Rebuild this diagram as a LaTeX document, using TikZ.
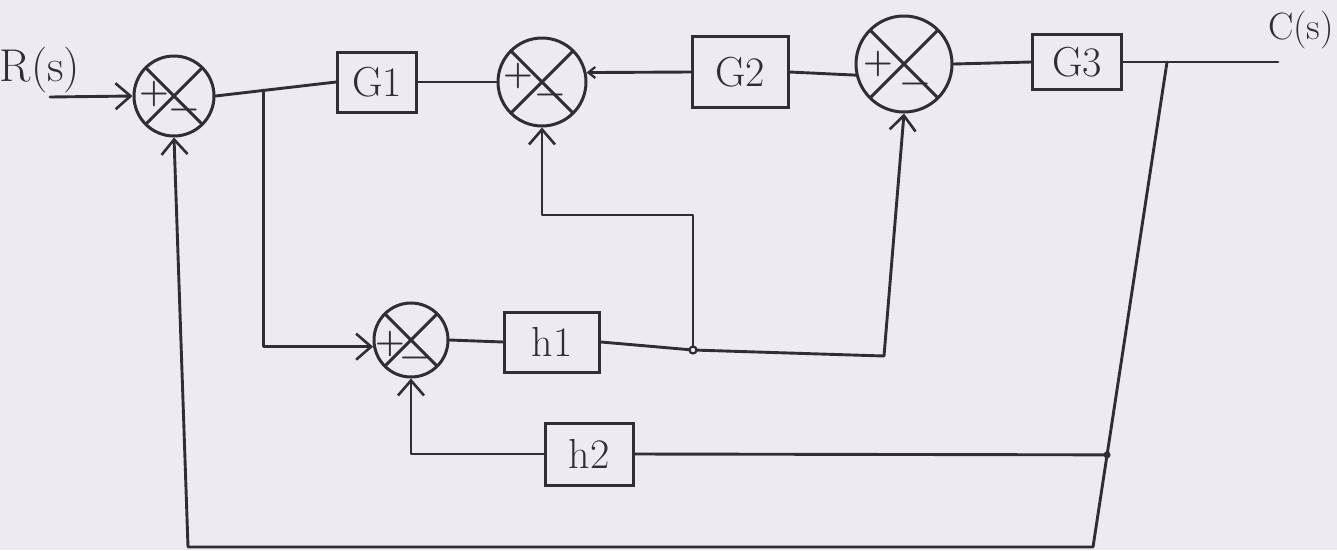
\documentclass[tikz,border=0pt]{standalone}
\usepackage{fontspec}
\usetikzlibrary{arrows.meta,calc}
\definecolor{ink}{RGB}{48,46,50}
\definecolor{paper}{RGB}{238,234,242}
\begin{document}
\begin{tikzpicture}[x=1pt,y=-1pt,
  inkline/.style={draw=ink, line width=2.9pt, line cap=round, line join=round},
  arr/.style={inkline, -{Straight Barb[length=15pt,width=26pt,line width=2.6pt]}},
  sarr/.style={inkline, -{Straight Barb[length=7pt,width=11pt,line width=2.2pt]}},
  summer/.style={circle, draw=ink, line width=3pt, minimum size=#1, inner sep=0pt,
    path picture={\draw[inkline] (path picture bounding box.north west) -- (path picture bounding box.south east)
      (path picture bounding box.north east) -- (path picture bounding box.south west);}},
  blk/.style={draw=ink, line width=3pt, inner sep=0pt, font=\fontsize{42}{42}\selectfont, text=ink},
  sgn/.style={inner sep=0pt, text height=0.5em, text depth=0pt, font=\fontsize{34}{34}\selectfont\bfseries, text=ink},
  lbl/.style={inner sep=0pt, text=ink}]
\fill[paper] (0,0) rectangle (1337,550);
\useasboundingbox (0,0) rectangle (1337,550);

% summing junctions
\node[summer=80pt] (s1) at (174,96) {};
\node[summer=88pt] (s2) at (542,82) {};
\node[summer=96pt] (s3) at (904,64) {};
\node[summer=74pt] (s4) at (411,340) {};

% signs
\node[sgn] (p1) at (154,100) {+};
\node[sgn] (m1) at (184,116) {−};
\node[sgn] (p2) at (518,82) {+};
\node[sgn] (m2) at (550,101) {−};
\node[sgn] (p3) at (878,70) {+};
\node[sgn] (m3) at (915,90) {−};
\node[sgn] (p4) at (390,350) {+};
\node[sgn] (m4) at (415,364) {−};

% blocks
\node[blk, minimum width=79pt, minimum height=60pt] (G1) at (377,82) {G1};
\node[blk, minimum width=96pt, minimum height=71pt] (G2) at (740,72) {G2};
\node[blk, minimum width=89pt, minimum height=55pt] (G3) at (1077,62) {G3};
\node[blk, minimum width=95pt, minimum height=60pt] (h1) at (552,342) {h1};
\node[blk, minimum width=88pt, minimum height=62pt] (h2) at (589,454) {h2};

% labels
\node[lbl, font=\fontsize{46}{46}\selectfont] (R) at (40,70) {R(s)};
\node[lbl, font=\fontsize{38}{38}\selectfont] (C) at (1301,30) {C(s)};

% coordinates
\coordinate (rin) at (50,97);
\coordinate (cout) at (1278,62);
\coordinate (j1) at ($(s1.east)!0.4!(G1.west)$);
\coordinate (jC) at (1167,62);
\coordinate (br) at (1093,547);
\coordinate (bl) at (188,547);
\coordinate (jH) at ($(jC)!0.81!(br)$);
\coordinate (j2) at (693,350);
\coordinate (c3) at (884,356);

% connectors
\draw[arr] (rin) -- (s1.west);
\draw[inkline] (s1.east) -- (G1.west);
\draw[arr] (j1) |- (s4.190);
\draw[inkline] (G1.east) -- (s2.west);
\draw[sarr] (G2.west) -- (s2.12);
\draw[inkline] (G2.east) -- (s3.193);
\draw[inkline] (s3.east) -- (G3.west);
\draw[inkline] (G3.east) -- (cout);
\draw[arr] (jC) -- (br) -- (bl) -- (s1.south);
\draw[inkline] (jH) -- (h2.east);
\draw[arr] (h2.west) -| (s4.south);
\draw[inkline] (s4.east) -- (h1.west);
\draw[arr] (h1.east) -- (j2) -- (c3) -- (s3.south);
\draw[arr] (j2) -- (693,215) -| (s2.south);
\draw[inkline, fill=paper, line width=2.2pt] (j2) circle (3.5pt);
\fill[ink] (jH) circle (3.5pt);
\end{tikzpicture}
\end{document}
